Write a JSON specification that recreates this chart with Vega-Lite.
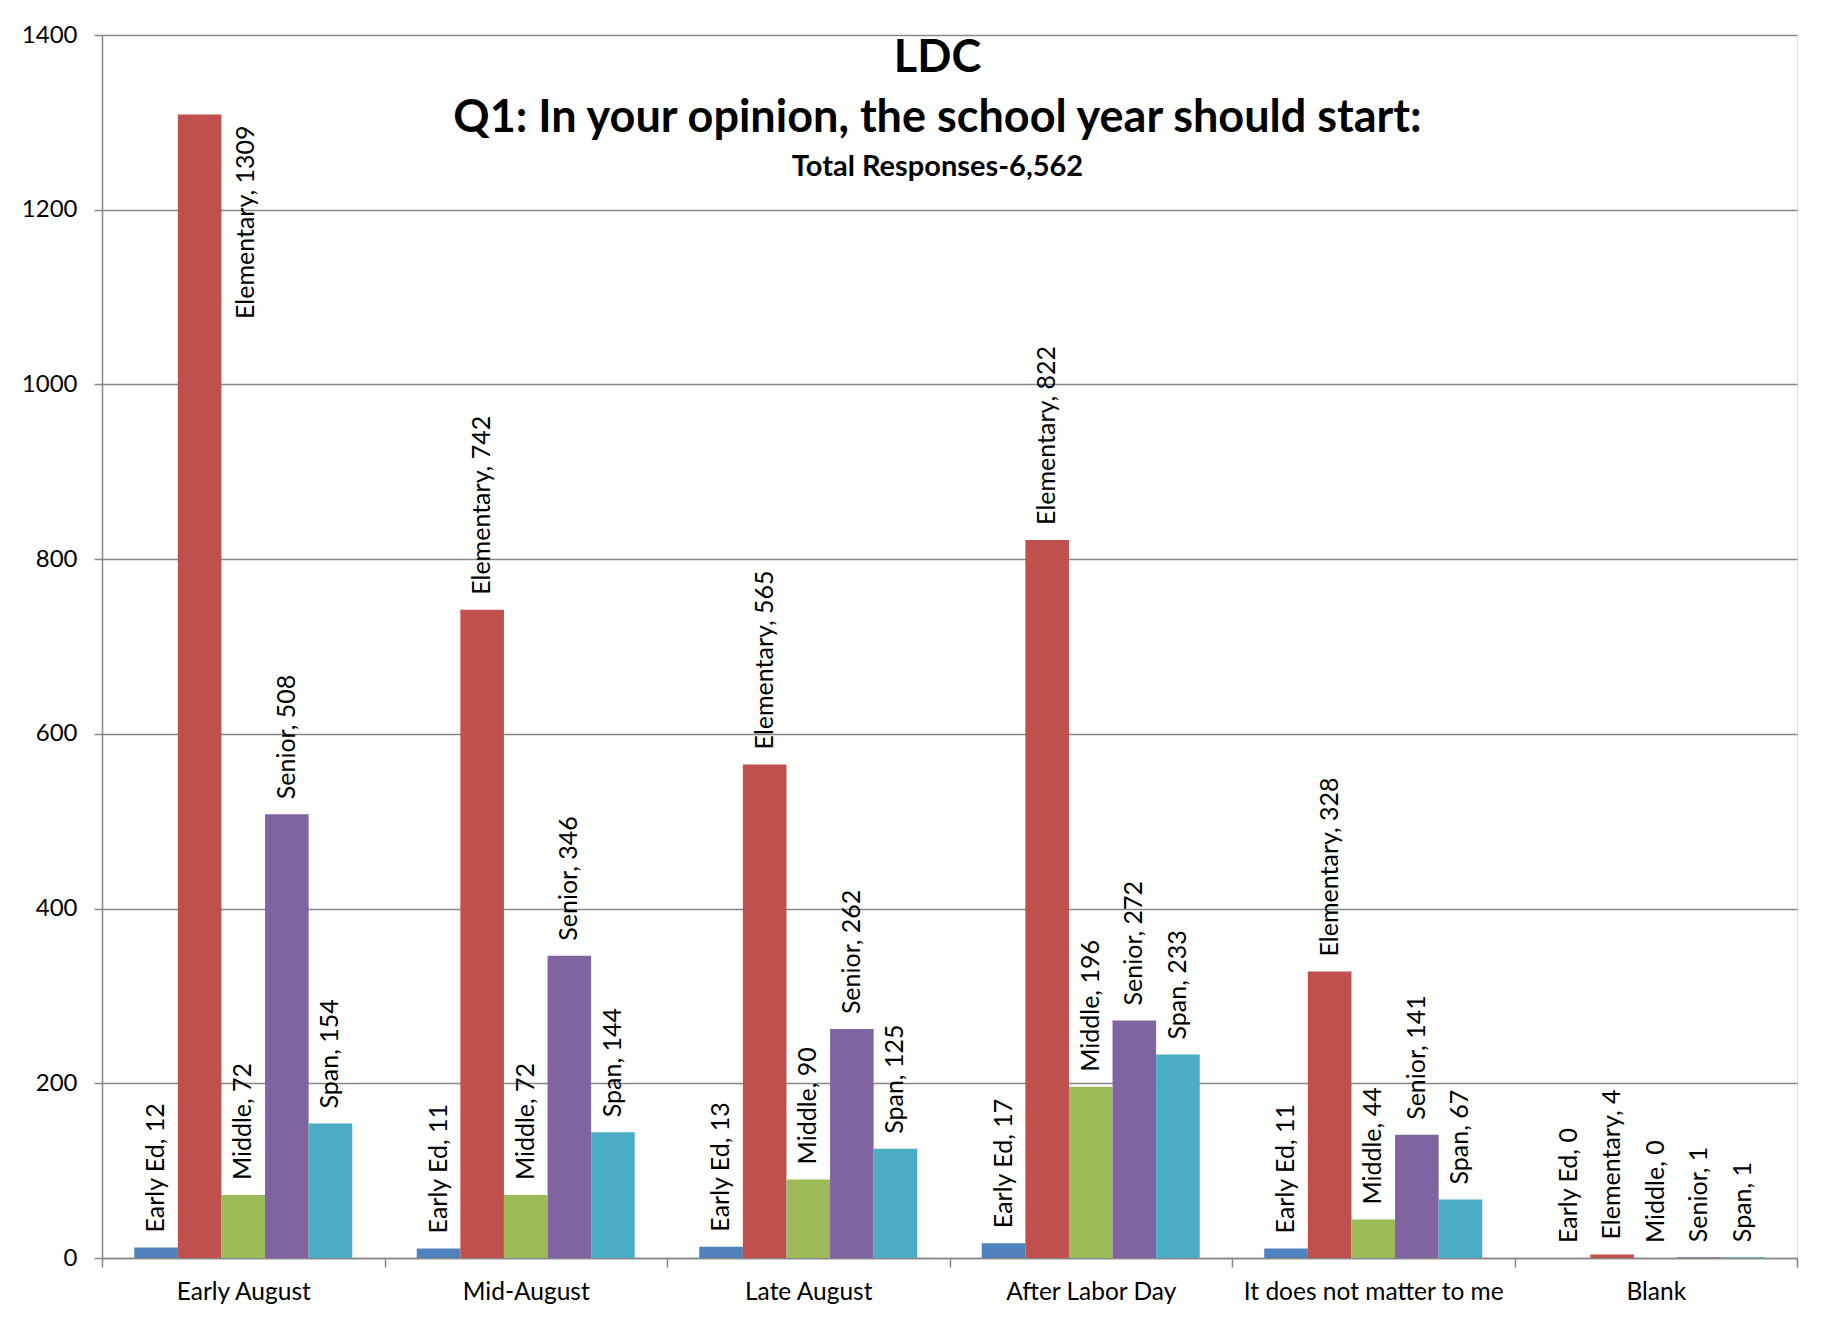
{
  "$schema": "https://vega.github.io/schema/vega-lite/v6.json",
  "width": 1695,
  "height": 1223,
  "autosize": {"type": "none"},
  "padding": {"left": 102, "top": 35, "right": 29, "bottom": 65},
  "background": "white",
  "title": {
    "text": ["LDC", "Q1: In your opinion, the school year should start:"],
    "subtitle": "Total Responses-6,562",
    "orient": "top",
    "anchor": "middle",
    "frame": "group",
    "offset": -159,
    "dx": -12,
    "font": "Lato",
    "fontSize": 45,
    "fontWeight": "bold",
    "color": "black",
    "lineHeight": 60,
    "subtitleFont": "Lato",
    "subtitleFontSize": 29,
    "subtitleFontWeight": "bold",
    "subtitleColor": "black",
    "subtitlePadding": 12
  },
  "data": {
    "values": [
      {"timing": "Early August", "level": "Early Ed", "count": 12},
      {"timing": "Early August", "level": "Elementary", "count": 1309},
      {"timing": "Early August", "level": "Middle", "count": 72},
      {"timing": "Early August", "level": "Senior", "count": 508},
      {"timing": "Early August", "level": "Span", "count": 154},
      {"timing": "Mid-August", "level": "Early Ed", "count": 11},
      {"timing": "Mid-August", "level": "Elementary", "count": 742},
      {"timing": "Mid-August", "level": "Middle", "count": 72},
      {"timing": "Mid-August", "level": "Senior", "count": 346},
      {"timing": "Mid-August", "level": "Span", "count": 144},
      {"timing": "Late August", "level": "Early Ed", "count": 13},
      {"timing": "Late August", "level": "Elementary", "count": 565},
      {"timing": "Late August", "level": "Middle", "count": 90},
      {"timing": "Late August", "level": "Senior", "count": 262},
      {"timing": "Late August", "level": "Span", "count": 125},
      {"timing": "After Labor Day", "level": "Early Ed", "count": 17},
      {"timing": "After Labor Day", "level": "Elementary", "count": 822},
      {"timing": "After Labor Day", "level": "Middle", "count": 196},
      {"timing": "After Labor Day", "level": "Senior", "count": 272},
      {"timing": "After Labor Day", "level": "Span", "count": 233},
      {"timing": "It does not matter to me", "level": "Early Ed", "count": 11},
      {"timing": "It does not matter to me", "level": "Elementary", "count": 328},
      {"timing": "It does not matter to me", "level": "Middle", "count": 44},
      {"timing": "It does not matter to me", "level": "Senior", "count": 141},
      {"timing": "It does not matter to me", "level": "Span", "count": 67},
      {"timing": "Blank", "level": "Early Ed", "count": 0},
      {"timing": "Blank", "level": "Elementary", "count": 4},
      {"timing": "Blank", "level": "Middle", "count": 0},
      {"timing": "Blank", "level": "Senior", "count": 1},
      {"timing": "Blank", "level": "Span", "count": 1}
    ]
  },
  "transform": [{"calculate": "datum.level + ', ' + datum.count", "as": "label"}],
  "encoding": {
    "x": {
      "field": "timing",
      "type": "nominal",
      "sort": ["Early August", "Mid-August", "Late August", "After Labor Day", "It does not matter to me", "Blank"],
      "scale": {"paddingInner": 0, "paddingOuter": 0},
      "title": null,
      "axis": {
        "labelAngle": 0,
        "labelLimit": 0,
        "tickBand": "extent",
        "tickSize": 9,
        "tickColor": "#868686",
        "tickWidth": 1.5,
        "domainColor": "#868686",
        "domainWidth": 1.5,
        "labelFont": "Lato",
        "labelFontSize": 24.5,
        "labelColor": "black",
        "labelPadding": 13,
        "grid": false
      }
    },
    "xOffset": {
      "field": "level",
      "type": "nominal",
      "sort": ["Early Ed", "Elementary", "Middle", "Senior", "Span"],
      "scale": {"paddingInner": 0, "paddingOuter": 0.74}
    },
    "y": {
      "field": "count",
      "type": "quantitative",
      "scale": {"domain": [0, 1400], "nice": false},
      "title": null,
      "axis": {
        "values": [0, 200, 400, 600, 800, 1000, 1200, 1400],
        "format": "d",
        "grid": true,
        "gridColor": "#868686",
        "gridWidth": 1.5,
        "domainColor": "#868686",
        "domainWidth": 1.5,
        "tickColor": "#868686",
        "tickWidth": 1.5,
        "tickSize": 8,
        "labelFont": "Lato",
        "labelFontSize": 24,
        "labelColor": "black",
        "labelPadding": 17
      }
    }
  },
  "layer": [
    {
      "mark": {"type": "bar"},
      "encoding": {
        "color": {
          "field": "level",
          "type": "nominal",
          "scale": {
            "domain": ["Early Ed", "Elementary", "Middle", "Senior", "Span"],
            "range": ["#4F81BD", "#C0504D", "#9BBB59", "#8064A2", "#4BACC6"]
          },
          "legend": null
        }
      }
    },
    {
      "transform": [{"filter": "datum.count < 1200"}],
      "mark": {"type": "text", "angle": 270, "align": "left", "baseline": "middle", "dx": 15, "font": "Lato", "fontSize": 25, "color": "black"},
      "encoding": {"text": {"field": "label"}}
    },
    {
      "transform": [{"filter": "datum.count >= 1200"}],
      "mark": {"type": "text", "angle": 270, "align": "right", "baseline": "middle", "dx": -11, "dy": 46, "font": "Lato", "fontSize": 25, "color": "black"},
      "encoding": {"text": {"field": "label"}}
    }
  ]
}
